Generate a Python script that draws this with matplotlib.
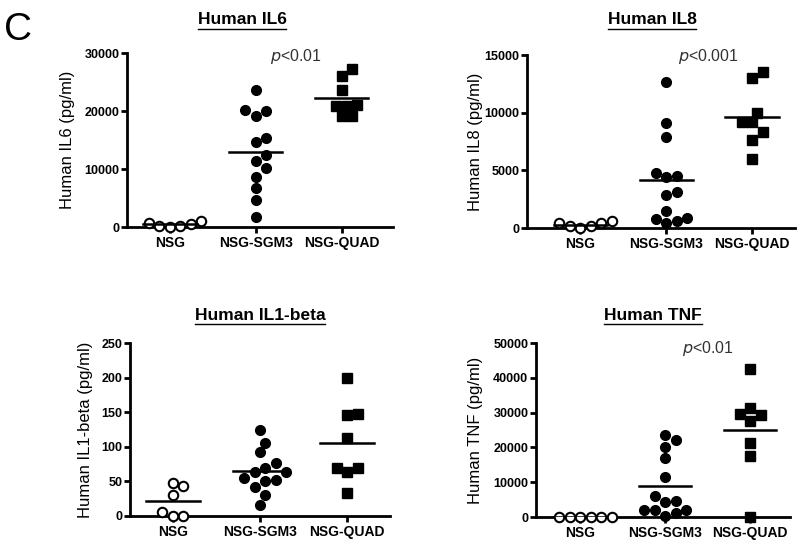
import numpy as np
import matplotlib
matplotlib.use("Agg")
import matplotlib.pyplot as plt
from matplotlib.lines import Line2D

plt.rcParams['font.family'] = ['Liberation Sans', 'DejaVu Sans']

groups = ["NSG", "NSG-SGM3", "NSG-QUAD"]

# values (pg/ml)
il6_nsg = [700, 200, 0, 100, 600, 1100]
il6_sgm3 = [23700, 20000, 19200, 20200, 14600, 15300, 12500, 11400, 10100, 8700, 6700, 4700, 1800]
il6_quad = [27200, 26100, 23700, 20800, 21100, 20800, 19200, 19200]

il8_nsg = [430, 140, 0, 140, 430, 600]
il8_sgm3 = [12700, 9100, 7900, 4800, 4400, 4500, 3100, 2900, 1500, 800, 400, 600, 900]
il8_quad = [13500, 13000, 10000, 9200, 9200, 8300, 7600, 6000]

il1b_nsg = [43, 47, 30, 6, 0, 0]
il1b_sgm3 = [125, 106, 92, 76, 69, 63, 63, 55, 50, 52, 42, 30, 16]
il1b_quad = [199, 148, 146, 112, 70, 70, 63, 33]

tnf_nsg = [0, 0, 0, 0, 0, 0]
tnf_sgm3 = [23700, 22100, 20200, 17000, 11500, 4600, 4300, 6000, 2100, 1900, 1100, 1900, 300]
tnf_quad = [42500, 31300, 29300, 29600, 27700, 21400, 17600, 0]

panels = [
    dict(title="Human IL6", ylabel="Human IL6 (pg/ml)", data=[il6_nsg, il6_sgm3, il6_quad],
         ymax=30000, step=10000, pval="p<0.01"),
    dict(title="Human IL8", ylabel="Human IL8 (pg/ml)", data=[il8_nsg, il8_sgm3, il8_quad],
         ymax=15000, step=5000, pval="p<0.001"),
    dict(title="Human IL1-beta", ylabel="Human IL1-beta (pg/ml)", data=[il1b_nsg, il1b_sgm3, il1b_quad],
         ymax=250, step=50, pval=None),
    dict(title="Human TNF", ylabel="Human TNF (pg/ml)", data=[tnf_nsg, tnf_sgm3, tnf_quad],
         ymax=50000, step=10000, pval="p<0.01"),
]

W, H = 800, 544
# layout in pixels: (left, right, top, bottom), xlim, title centre, label x, p-value centre
layout = [
    dict(box=(127, 393, 53, 227), xlim=(-0.5, 2.6), title=(242, 20), lab=-0.195, p=(296, 56)),
    dict(box=(527, 795, 55, 228), xlim=(-0.62, 2.5), title=(652, 20), lab=-0.164, p=(708, 57)),
    dict(box=(130, 390, 343, 516), xlim=(-0.49, 2.49), title=(260, 315), lab=-0.142, p=None),
    dict(box=(536, 790, 343, 517), xlim=(-0.52, 2.47), title=(653, 315), lab=-0.209, p=(708, 348)),
]


def swarm(ax, x0, vals, diam_px):
    """beeswarm style horizontal offsets, in data units"""
    order = np.argsort(vals)
    placed = []
    xs = np.zeros(len(vals))
    for i in order:
        px, py = ax.transData.transform((x0, vals[i]))
        k = 0
        while True:
            off = ((k + 1) // 2) * (1 if k % 2 else -1) * diam_px * 0.5 if k else 0
            cand = px + off
            if all((cand - qx) ** 2 + (py - qy) ** 2 >= diam_px ** 2 for qx, qy in placed):
                break
            k += 1
        placed.append((cand, py))
        xs[i] = ax.transData.inverted().transform((cand, py))[0]
    return xs


fig = plt.figure(figsize=(W / 100, H / 100), dpi=100)

for p, lay in zip(panels, layout):
    l, r, t, b = lay["box"]
    ax = fig.add_axes([l / W, 1 - b / H, (r - l) / W, (b - t) / H])
    ax.set_xlim(*lay["xlim"])
    ax.set_ylim(0, p["ymax"])
    for s in ["top", "right"]:
        ax.spines[s].set_visible(False)
    for s in ["left", "bottom"]:
        ax.spines[s].set_linewidth(2.0)
    ax.tick_params(width=2.0, length=4, pad=1.5, direction="out", labelsize=9)
    ax.tick_params(axis="x", pad=2.5)
    ax.set_yticks(np.arange(0, p["ymax"] + 1, p["step"]))
    ax.set_xticks(range(3))
    ax.set_xticklabels(groups, fontsize=10, fontweight="bold")
    for lb in ax.get_yticklabels():
        lb.set_fontweight("bold")
    ax.set_ylabel(p["ylabel"], fontsize=12)
    ax.yaxis.set_label_coords(lay["lab"], 0.5)

    for gi, vals in enumerate(p["data"]):
        vals = np.array(vals, dtype=float)
        xs = swarm(ax, gi, vals, 10.5)
        if gi == 0:
            ax.plot(xs, vals, "o", ms=6.8, mfc="white", mec="black", mew=1.5, ls="none",
                    clip_on=False, zorder=3)
        elif gi == 1:
            ax.plot(xs, vals, "o", ms=7, color="black", ls="none", clip_on=False, zorder=3)
        else:
            ax.plot(xs, vals, "s", ms=6.8, color="black", ls="none", clip_on=False, zorder=3)
        m = vals.mean()
        ax.plot([gi - 0.31, gi + 0.31], [m, m], color="black", lw=1.8, zorder=4)

    tx, ty = lay["title"]
    fig.text(tx / W, 1 - ty / H, p["title"], ha="center", va="center", fontsize=12.5,
             fontweight="bold")

    if p["pval"]:
        px_, py_ = lay["p"]
        fig.text(px_ / W, 1 - py_ / H, r"$\it{p}$" + p["pval"][1:], ha="center", va="center",
                 fontsize=11.5, color="#333333")

fig.text(4 / W, 1 - 30 / H, "C", fontsize=28, ha="left", va="center")

# underline the titles
fig.canvas.draw()
for txt in fig.texts:
    if txt.get_text().startswith("Human"):
        bb = txt.get_window_extent()
        y = bb.y0 - 1
        fig.add_artist(Line2D([bb.x0 / W, bb.x1 / W], [y / H, y / H], color="black", lw=1.0,
                              transform=fig.transFigure))

fig.savefig("out.png", dpi=100)
